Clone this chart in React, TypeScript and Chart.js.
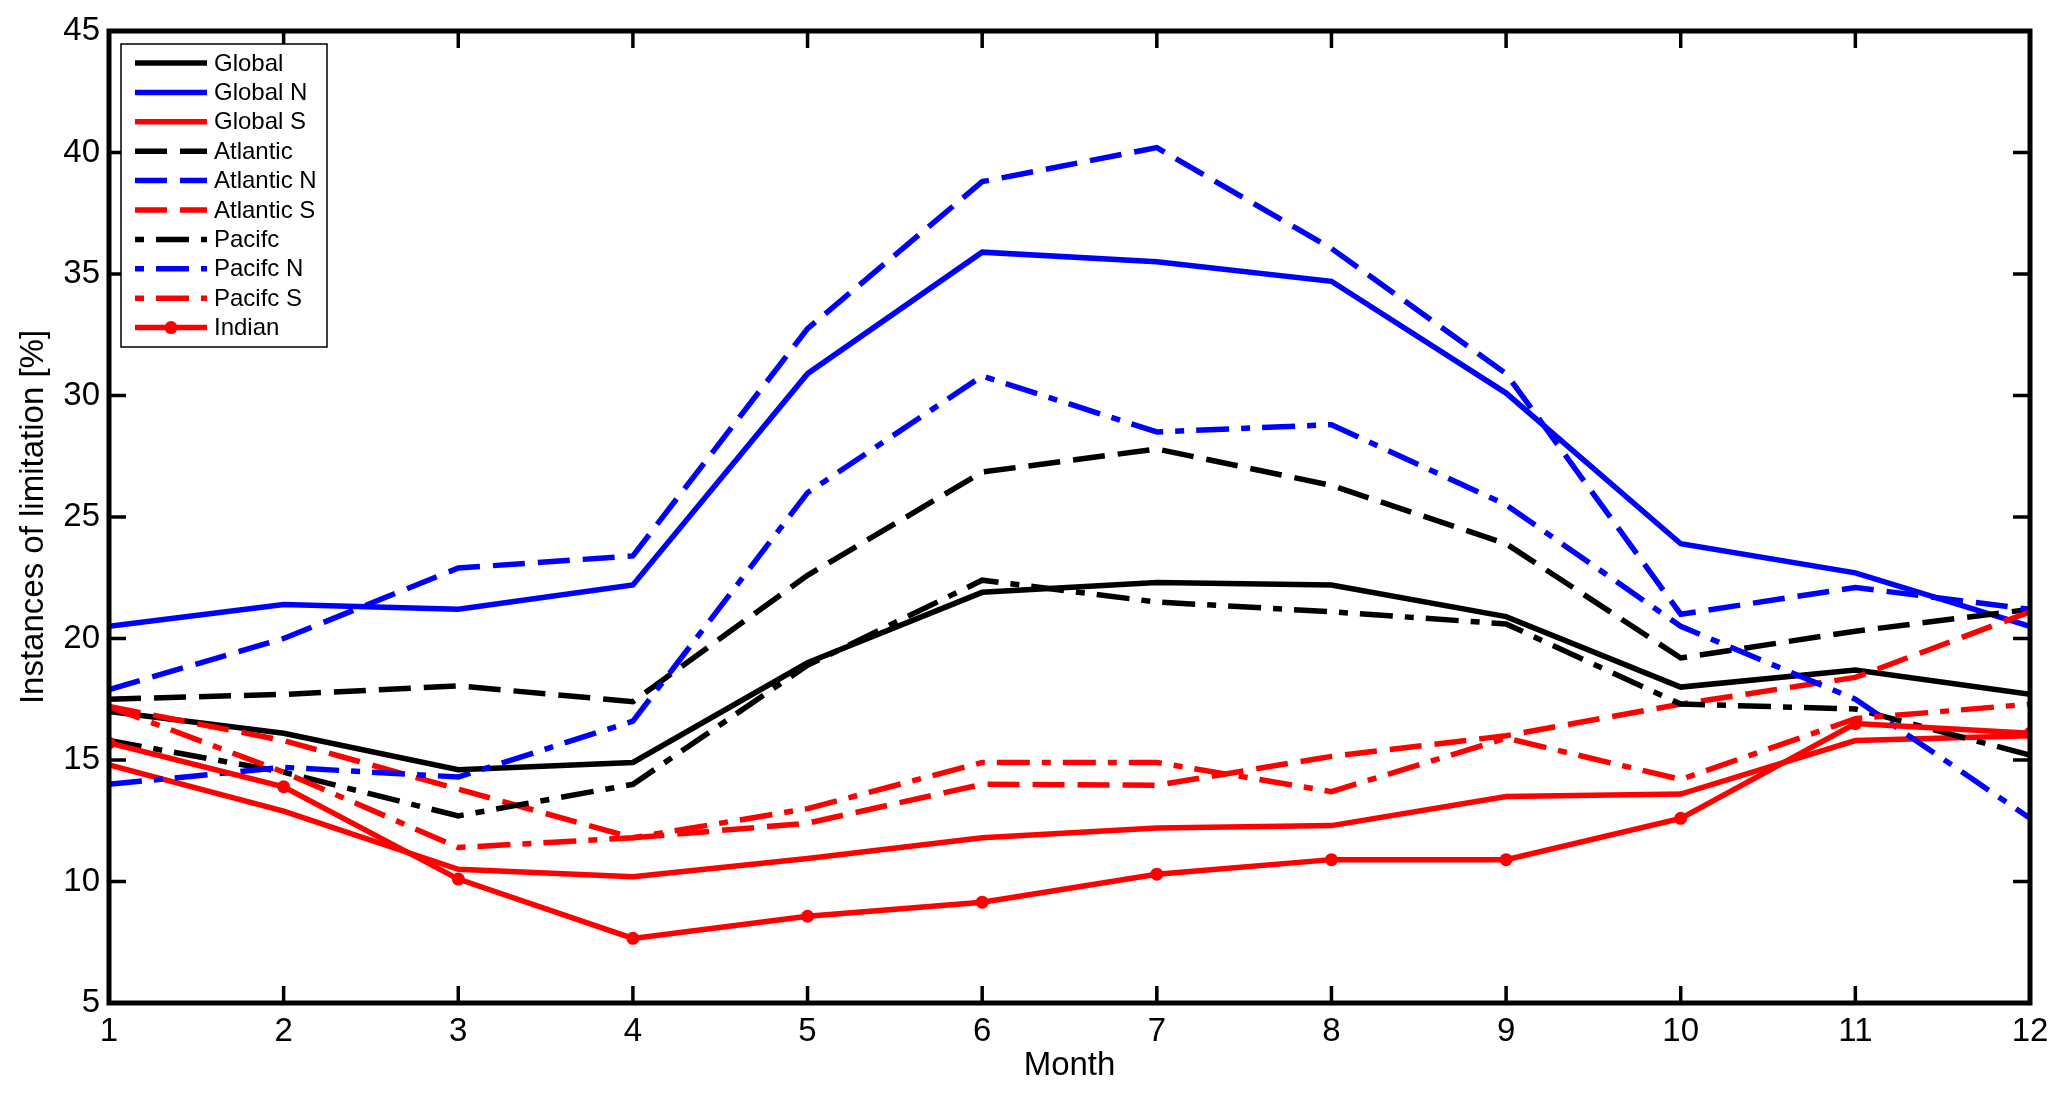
import React, { useEffect, useRef } from 'react';
import { Chart, registerables } from 'chart.js';

Chart.register(...registerables);

const months = [1, 2, 3, 4, 5, 6, 7, 8, 9, 10, 11, 12];

const seriesNames = ['Global', 'Global N', 'Global S', 'Atlantic', 'Atlantic N', 'Atlantic S', 'Pacifc', 'Pacifc N', 'Pacifc S', 'Indian'];

const globalAll = [17.0, 16.1, 14.6, 14.9, 19.0, 21.9, 22.3, 22.2, 20.9, 18.0, 18.7, 17.7];
const globalN = [20.5, 21.4, 21.2, 22.2, 30.9, 35.9, 35.5, 34.7, 30.1, 23.9, 22.7, 20.5];
const globalS = [14.8, 12.9, 10.5, 10.2, 10.95, 11.8, 12.2, 12.3, 13.5, 13.6, 15.8, 16.0];
const atlantic = [17.5, 17.7, 18.05, 17.4, 22.6, 26.85, 27.8, 26.3, 23.9, 19.2, 20.3, 21.2];
const atlanticN = [17.9, 20.0, 22.9, 23.4, 32.75, 38.8, 40.2, 36.05, 30.9, 21.0, 22.1, 21.2];
const atlanticS = [17.2, 15.8, 13.8, 11.8, 12.4, 14.0, 13.96, 15.15, 16.0, 17.3, 18.4, 21.1];
const pacific = [15.8, 14.5, 12.7, 14.0, 18.9, 22.4, 21.5, 21.1, 20.6, 17.3, 17.1, 15.2];
const pacificN = [14.0, 14.7, 14.3, 16.6, 26.0, 30.8, 28.5, 28.8, 25.5, 20.5, 17.5, 12.6];
const pacificS = [17.2, 14.5, 11.4, 11.8, 13.0, 14.9, 14.9, 13.7, 15.9, 14.2, 16.7, 17.3];
const indian = [15.7, 13.9, 10.1, 7.66, 8.57, 9.15, 10.3, 10.9, 10.9, 12.6, 16.5, 16.1];

const seriesValues = [globalAll, globalN, globalS, atlantic, atlanticN, atlanticS, pacific, pacificN, pacificS, indian];
const seriesColors = ['#000000', '#0000ff', '#ff0000', '#000000', '#0000ff', '#ff0000', '#000000', '#0000ff', '#ff0000', '#ff0000'];
const seriesStyles = ['solid', 'solid', 'solid', 'dash', 'dash', 'dash', 'dashdot', 'dashdot', 'dashdot', 'marker'];

const yMin = 5;
const yMax = 45;
const yStep = 5;

const DASH = [32, 13];
const DASHDOT = [33, 12, 9, 12];
const FONT = '"Liberation Sans", Arial, Helvetica, sans-serif';

const framePlugin = {
  id: 'matlabFrame',
  afterDraw(chart: any) {
    const { ctx, chartArea } = chart;
    const { left, top, right, bottom } = chartArea;
    const xs = chart.scales.x;
    const ys = chart.scales.y;
    ctx.save();
    ctx.strokeStyle = '#000';
    ctx.lineCap = 'butt';
    ctx.setLineDash([]);
    // inside ticks
    ctx.lineWidth = 3.5;
    const tl = 17;
    ctx.beginPath();
    xs.ticks.forEach((t: any) => {
      const p = xs.getPixelForValue(t.value);
      ctx.moveTo(p, bottom);
      ctx.lineTo(p, bottom - tl);
      ctx.moveTo(p, top);
      ctx.lineTo(p, top + tl);
    });
    ys.ticks.forEach((t: any) => {
      const p = ys.getPixelForValue(t.value);
      ctx.moveTo(left, p);
      ctx.lineTo(left + tl, p);
      ctx.moveTo(right, p);
      ctx.lineTo(right - tl, p);
    });
    ctx.stroke();
    // frame
    ctx.lineWidth = 5;
    ctx.strokeRect(left, top, right - left, bottom - top);

    // legend
    const datasets = chart.data.datasets;
    const bx = left + 12;
    const by = top + 13;
    const bw = 206;
    const rowH = 29.4;
    const bh = 303;
    ctx.fillStyle = '#fff';
    ctx.fillRect(bx, by, bw, bh);
    ctx.lineWidth = 1.5;
    ctx.strokeStyle = '#000';
    ctx.strokeRect(bx, by, bw, bh);
    ctx.font = '24px ' + FONT;
    ctx.textBaseline = 'middle';
    ctx.textAlign = 'left';
    datasets.forEach((ds: any, i: number) => {
      const cy = by + 19 + i * rowH;
      const x0 = bx + 14;
      const x1 = bx + 86;
      ctx.strokeStyle = ds.borderColor;
      ctx.lineWidth = 5.5;
      const dash = ds.borderDash || [];
      ctx.setLineDash(dash);
      ctx.lineDashOffset = dash.length === 4 ? dash[0] + dash[1] : 0;
      ctx.beginPath();
      ctx.moveTo(x0, cy);
      ctx.lineTo(x1, cy);
      ctx.stroke();
      ctx.setLineDash([]);
      ctx.lineDashOffset = 0;
      if (ds.pointRadius > 0) {
        ctx.fillStyle = ds.borderColor;
        ctx.beginPath();
        ctx.arc((x0 + x1) / 2, cy, ds.pointRadius, 0, Math.PI * 2);
        ctx.fill();
      }
      ctx.fillStyle = '#000';
      ctx.fillText(ds.label, bx + 93, cy + 1);
    });
    ctx.restore();
  },
};

export default function App() {
  const ref = useRef<HTMLCanvasElement>(null);

  useEffect(() => {
    document.body.style.margin = '0';
    const canvas = ref.current;
    if (!canvas) return;
    const n = seriesNames.length;
    const datasets = seriesNames.map((name, i) => {
      const style = seriesStyles[i];
      return {
        label: name,
        data: months.map((m, j) => ({ x: m, y: seriesValues[i][j] })),
        borderColor: seriesColors[i],
        backgroundColor: seriesColors[i],
        borderWidth: 5.5,
        borderDash: style === 'dash' ? DASH : style === 'dashdot' ? DASHDOT : [],
        pointRadius: style === 'marker' ? 6.5 : 0,
        pointHoverRadius: style === 'marker' ? 6.5 : 0,
        pointBorderWidth: 0,
        pointBackgroundColor: seriesColors[i],
        tension: 0,
        fill: false,
        order: n - 1 - i,
      };
    });

    const chart = new Chart(canvas, {
      type: 'line',
      data: { datasets },
      options: {
        responsive: false,
        animation: false,
        devicePixelRatio: 1,
        layout: { padding: { left: 0, top: 31, right: 37, bottom: 0 } },
        plugins: {
          legend: { display: false },
          tooltip: { enabled: false },
          title: { display: false },
        },
        scales: {
          x: {
            type: 'linear',
            min: 1,
            max: 12,
            grid: { display: false, drawTicks: false },
            border: { display: false },
            ticks: {
              stepSize: 1,
              color: '#000',
              padding: 9,
              maxRotation: 0,
              autoSkip: false,
              font: { size: 33, family: FONT },
            },
            title: {
              display: true,
              text: 'Month',
              color: '#000',
              font: { size: 33, family: FONT },
              padding: { top: 0, bottom: 12 },
            },
            afterFit: (s: any) => {
              s.height = 95;
            },
          },
          y: {
            type: 'linear',
            min: yMin,
            max: yMax,
            grid: { display: false, drawTicks: false },
            border: { display: false },
            ticks: {
              stepSize: yStep,
              color: '#000',
              padding: 9,
              font: { size: 33, family: FONT },
            },
            title: {
              display: true,
              text: 'Instances of limitation [%]',
              color: '#000',
              font: { size: 33, family: FONT },
              padding: { top: 14, bottom: 0 },
            },
            afterFit: (s: any) => {
              s.width = 109;
            },
          },
        },
      },
      plugins: [framePlugin],
    });
    return () => chart.destroy();
  }, []);

  return (
    <div style={{ position: 'fixed', left: 0, top: 0, width: 2067, height: 1098, background: '#fff' }}>
      <canvas ref={ref} width={2067} height={1098} style={{ width: 2067, height: 1098, display: 'block' }} />
    </div>
  );
}
